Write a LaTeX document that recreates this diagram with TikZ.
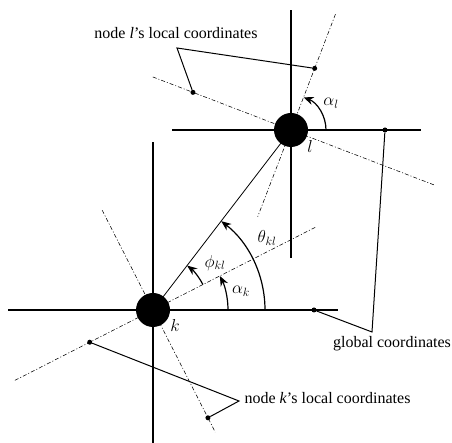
\documentclass[tikz,border=0pt]{standalone}
\usepackage{fontspec}
\setmainfont{Liberation Serif}
\usetikzlibrary{arrows.meta,calc}

\begin{document}
\begin{tikzpicture}[x=1pt, y=1pt,
  axis/.style={line width=1.3pt},
  localaxis/.style={line width=0.55pt, dash pattern=on 4pt off 2pt on 1pt off 2pt},
  body/.style={circle, fill=black, inner sep=0pt, minimum size=34pt},
  dot/.style={circle, fill=black, inner sep=0pt, minimum size=5pt},
  leader/.style={line width=1pt},
  angarc/.style={-{Stealth[length=10pt,width=8pt]}, line width=1.2pt},
  lbl/.style={font=\fontsize{16}{18}\selectfont},
  ang/.style={font=\fontsize{18}{20}\selectfont}
]
  \useasboundingbox (0,0) rectangle (452,443);

  % the two nodes
  \node[body] (k) at (153,133) {};
  \node[body] (l) at (291,313) {};
  \node[ang] (klab) at (175,117) {$k$};
  \node[ang] (llab) at (310,296) {$l$};

  % global axes
  \coordinate (kW) at (8,133);   \coordinate (kE) at (338,133);
  \coordinate (kS) at (153,0);   \coordinate (kN) at (153,301);
  \coordinate (lW) at (172,313); \coordinate (lE) at (421,313);
  \coordinate (lS) at (291,185); \coordinate (lN) at (291,433);
  \foreach \a/\b in {kW/kE, kS/kN, lW/lE, lS/lN} {
    \draw[axis] (\a) -- (\b);
  }

  % local axes
  \coordinate (kxA) at ($(k)+(27:182)$);  \coordinate (kxB) at ($(k)+(207:155)$);
  \coordinate (kyA) at ($(k)+(117:112)$); \coordinate (kyB) at ($(k)+(297:137)$);
  \coordinate (lxA) at ($(l)+(69:124)$);  \coordinate (lxB) at ($(l)+(249:93)$);
  \coordinate (lyA) at ($(l)+(159:148)$); \coordinate (lyB) at ($(l)+(-21:155)$);
  \foreach \a/\b in {kxA/kxB, kyA/kyB, lxA/lxB, lyA/lyB} {
    \draw[localaxis] (\a) -- (\b);
  }

  % link k -- l
  \draw[line width=0.8pt] (k.center) -- (l.center);

  % angles
  \draw[angarc] ($(l)+(35,0)$) arc[start angle=0, end angle=69, radius=35];
  \draw[angarc] ($(k)+(75,0)$) arc[start angle=0, end angle=27, radius=75];
  \draw[angarc] ($(k)+(112,0)$) arc[start angle=0, end angle=52.5, radius=112];
  \draw[angarc] ($(k)+(27:56)$) arc[start angle=27, end angle=52.5, radius=56];
  \node[ang] (al) at (331,340) {$\alpha_l$};
  \node[ang] (ak) at (241,152) {$\alpha_k$};
  \node[ang] (th) at (267,205) {$\theta_{kl}$};
  \node[ang] (ph) at (215,180) {$\phi_{kl}$};

  % leaders to the labels
  \node[dot] (ldx) at ($(l)+(69:66)$) {};
  \node[dot] (ldy) at ($(l)+(159:105)$) {};
  \node[dot] (gl) at (385,313) {};
  \node[dot] (gk) at (314,133) {};
  \node[dot] (kdx) at ($(k)+(207:71)$) {};
  \node[dot] (kdy) at ($(k)+(297:121)$) {};
  \coordinate (lvx) at (177,395);
  \coordinate (gvx) at (372,111);
  \coordinate (kvx) at (239,42);
  \draw[leader] (ldx) -- (lvx) -- (ldy);
  \draw[leader] (gl) -- (gvx) -- (gk);
  \draw[leader] (kdx) -- (kvx) -- (kdy);

  \node[lbl] (ltxt) at (176,410) {node \textit{l}'s local coordinates};
  \node[lbl] (gtxt) at (392,99) {global coordinates};
  \node[lbl, anchor=west] (ktxt) at (241,45) {node \textit{k}'s local coordinates};
\end{tikzpicture}
\end{document}
